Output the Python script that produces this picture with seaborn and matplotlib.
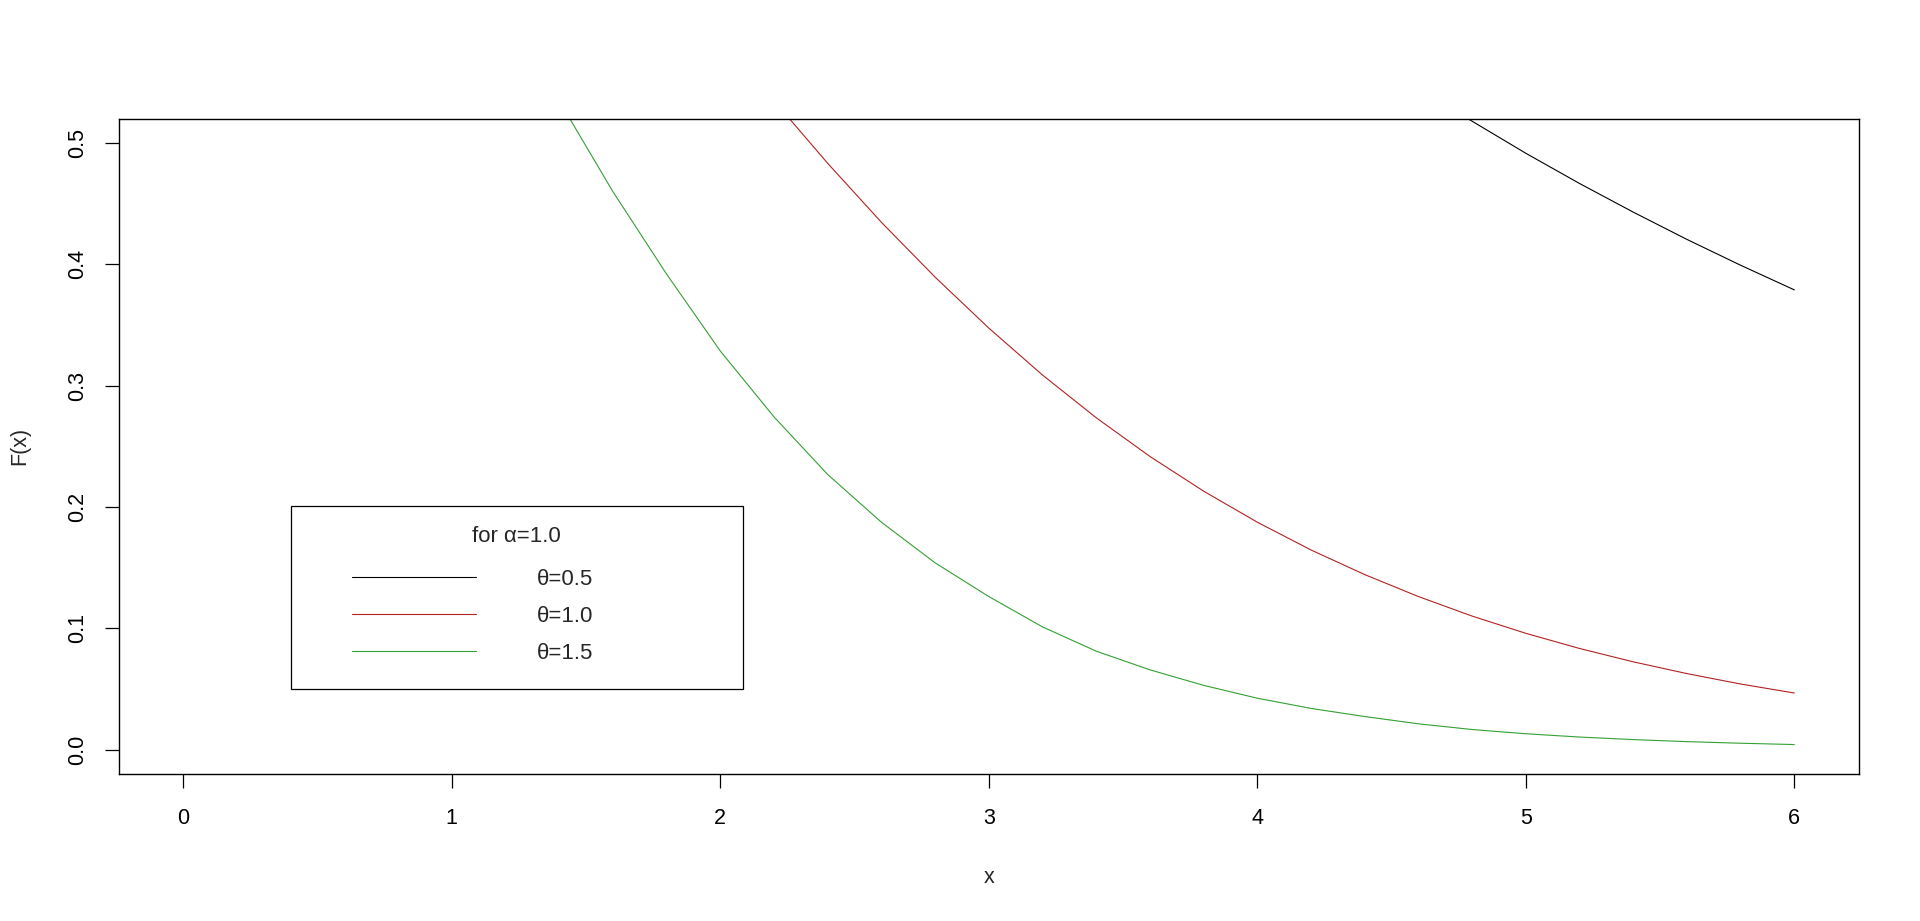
import pandas as pd
import seaborn as sns
import matplotlib.pyplot as plt
from matplotlib.patches import Rectangle
from matplotlib.lines import Line2D

# values
x_theta05 = [4.785, 5.0, 5.2, 5.4, 5.6, 5.8, 6.0]
y_theta05 = [0.520, 0.4916, 0.4667, 0.4431, 0.4206, 0.3993, 0.379]

x_theta10 = [2.254, 2.4, 2.6, 2.8, 3.0, 3.2, 3.4, 3.6, 3.8, 4.0,
             4.2, 4.4, 4.6, 4.8, 5.0, 5.2, 5.4, 5.6, 5.8, 6.0]
y_theta10 = [0.521, 0.4833, 0.4347, 0.3895, 0.3475, 0.3088, 0.2736, 0.2417, 0.2131, 0.1875,
             0.1646, 0.1443, 0.1262, 0.1101, 0.0959, 0.0834, 0.0724, 0.0627, 0.0541, 0.0467]

x_theta15 = [1.437, 1.6, 1.8, 2.0, 2.2, 2.4, 2.6, 2.8, 3.0, 3.2,
             3.4, 3.6, 3.8, 4.0, 4.2, 4.4, 4.6, 4.8, 5.0, 5.2,
             5.4, 5.6, 5.8, 6.0]
y_theta15 = [0.521, 0.460, 0.392, 0.3286, 0.2743, 0.2268, 0.1875, 0.154, 0.1262, 0.1012,
             0.0812, 0.0658, 0.0530, 0.0424, 0.0340, 0.0273, 0.0213, 0.0166, 0.0131, 0.0104,
             0.0083, 0.0066, 0.0053, 0.0042]

series_labels = ["θ=0.5", "θ=1.0", "θ=1.5"]
series_colors = ["black", "#B22222", "#33A033"]
legend_title = "for α=1.0"
x_ticks = [0, 1, 2, 3, 4, 5, 6]
y_ticks = [0.0, 0.1, 0.2, 0.3, 0.4, 0.5]

sns.set_style("white")
plt.rcParams['font.family'] = ['Liberation Sans', 'DejaVu Sans']

fig = plt.figure(figsize=(19.2, 9.21), dpi=100)
ax = fig.add_axes([0.0619, 0.1597, 0.9062, 0.7113])

frames = []
for xs, ys, lab in zip([x_theta05, x_theta10, x_theta15],
                       [y_theta05, y_theta10, y_theta15], series_labels):
    frames.append(pd.DataFrame({'x': xs, 'F': ys, 'theta': lab}))
df = pd.concat(frames, ignore_index=True)

sns.lineplot(data=df, x='x', y='F', hue='theta', palette=series_colors,
             estimator=None, sort=False, linewidth=0.8, legend=False, ax=ax)

ax.set_xlim(-0.24, 6.24)
ax.set_ylim(-0.02, 0.52)
ax.set_xticks(x_ticks)
ax.set_xticklabels([str(t) for t in x_ticks])
ax.set_yticks(y_ticks)
ax.set_yticklabels([f"{t:.1f}" for t in y_ticks], rotation=90, va='center')
ax.tick_params(axis='both', direction='out', length=10, width=0.9,
               labelsize=15.5, colors='black', bottom=True, left=True)
ax.tick_params(axis='x', pad=14.5)
ax.tick_params(axis='y', pad=12)
for sp in ax.spines.values():
    sp.set_visible(True)
    sp.set_color('black')
    sp.set_linewidth(1.0)

ax.set_xlabel('x', fontsize=15.5)
ax.set_ylabel('F(x)', fontsize=15.5)
ax.xaxis.set_label_coords(0.5, -0.142)
ax.yaxis.set_label_coords(-0.051, 0.5)

# legend like R's legend(): boxed, centred title
handles = [Line2D([], [], color=c, lw=0.8) for c in series_colors]
ax.legend(handles, series_labels, loc='center left', bbox_to_anchor=(0.134, 0.2406),
          frameon=False, borderpad=0, borderaxespad=0, fontsize=16,
          handlelength=5.58, handletextpad=2.75, labelspacing=0.73)
ax.add_patch(Rectangle((0.0988, 0.1291), 0.2598, 0.2798, transform=ax.transAxes,
                       fill=False, edgecolor='black', linewidth=0.9))
ax.text(0.2287, 0.3621, legend_title, transform=ax.transAxes,
        ha='center', va='center', fontsize=16)

plt.savefig('out.png', dpi=100)
